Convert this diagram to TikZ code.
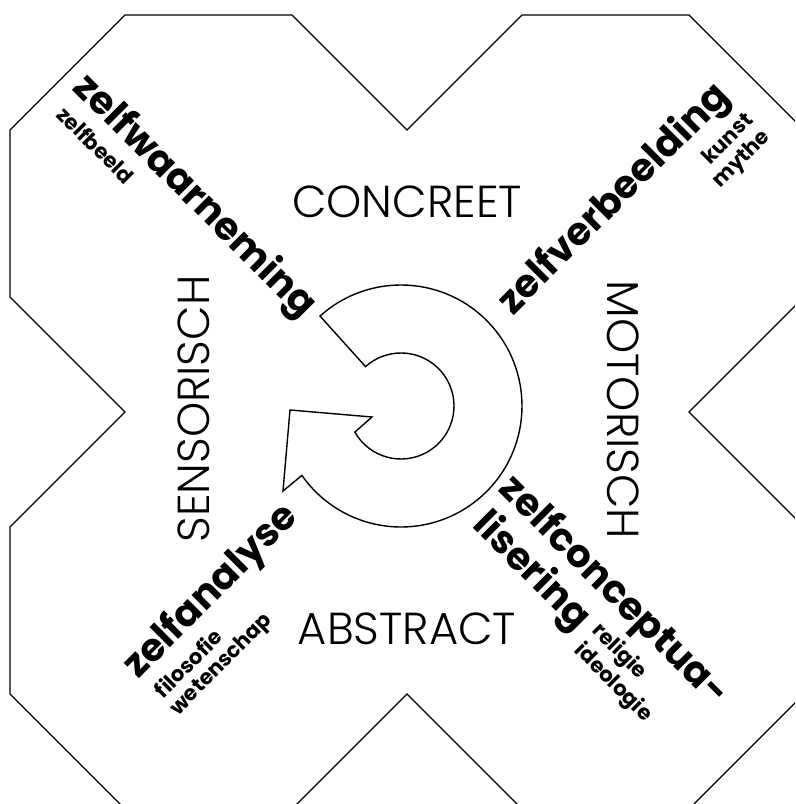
\documentclass[tikz,border=0pt]{standalone}
\usepackage{fontspec}
\setmainfont{Poppins}
\newfontfamily\lightfont{Poppins Light}
\usepackage{tikz}
\usetikzlibrary{calc}

\begin{document}
\begin{tikzpicture}[x=0.02cm,y=0.02cm,
    pole/.style={inner sep=0pt, font=\lightfont\fontsize{25.5}{30}\selectfont},
    aspect/.style={inner sep=0pt, font=\bfseries\fontsize{22}{26}\selectfont},
    sub/.style={inner sep=0pt, font=\bfseries\fontsize{12}{14}\selectfont}]
    \clip (-407,-392) rectangle (388,412);
    % outline of the cross
    \draw[line width=0.75pt] (-115,397) -- (-282,397) -- (-397,282) -- (-397,115) -- (-282,0)
        -- (-397,-115) -- (-397,-282) -- (-282,-397) -- (-115,-397) -- (0,-282)
        -- (115,-397) -- (282,-397) -- (397,-282) -- (397,-115) -- (282,0)
        -- (397,115) -- (397,282) -- (282,397) -- (115,397) -- (0,282) -- cycle;
    % circular arrow
    \coordinate (hub) at (-6,6);
    \draw[line width=0.8pt] ($(hub)+(132:121)$) arc[start angle=132, end angle=-145, radius=121]
        -- (-124,-79) -- (-117,2) -- (-35,-5) -- ($(hub)+(-150.5:53)$)
        arc[start angle=-150.5, end angle=132, radius=53] -- cycle;
    % poles
    \node[pole] (concreet) at (0,210) {CONCREET};
    \node[pole] (abstract) at (0,-217) {ABSTRACT};
    \node[pole, rotate=90] (sensorisch) at (-213,3) {SENSORISCH};
    \node[pole, rotate=-90] (motorisch) at (216,2) {MOTORISCH};
    % aspects
    \node[aspect, rotate=-45] (waarneming) at (-213,215) {zelfwaarneming};
    \node[sub, rotate=-45] (beeld) at (-311,267) {zelfbeeld};
    \node[aspect, rotate=45] (verbeelding) at (208,212) {zelfverbeelding};
    \node[sub, rotate=45] (kunst) at (320,274) {kunst};
    \node[sub, rotate=45] (mythe) at (335,252) {mythe};
    \node[aspect, rotate=45] (analyse) at (-195,-180) {zelfanalyse};
    \node[sub, rotate=45] (filosofie) at (-219,-251) {filosofie};
    \node[sub, rotate=45] (wetenschap) at (-185,-253) {wetenschap};
    \node[aspect, rotate=-45] (concept) at (206,-180) {zelfconceptua-};
    \node[aspect, rotate=-45] (lisering) at (124,-160) {lisering};
    \node[sub, rotate=-45] (religie) at (212,-240) {religie};
    \node[sub, rotate=-45] (ideologie) at (206,-271) {ideologie};
\end{tikzpicture}
\end{document}
